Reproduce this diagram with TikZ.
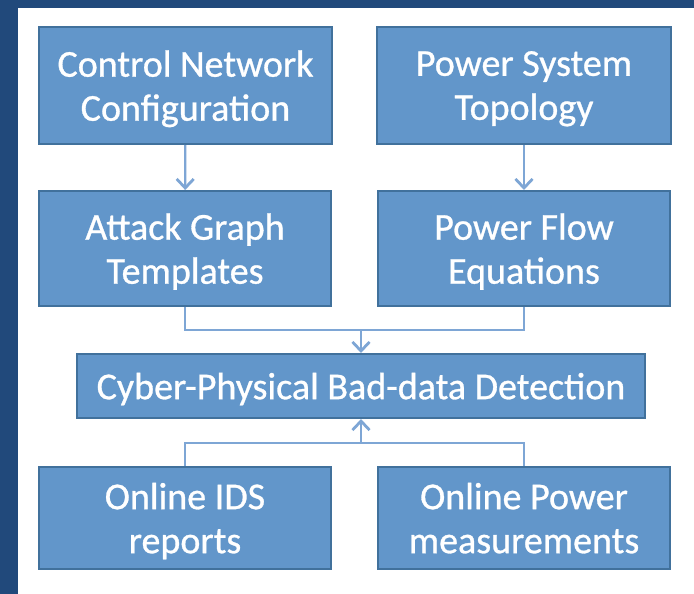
\documentclass[tikz,border=0pt]{standalone}
\usepackage{xcolor}
\usepackage{tikz}
\usepackage{fontspec}
\setmainfont{Carlito}
\newfontfamily\boxfont{Carlito}[FakeBold=0.8]
\usetikzlibrary{arrows.meta, positioning, calc}
\definecolor{frameblue}{HTML}{21497B}
\definecolor{boxfill}{HTML}{6296CA}
\definecolor{boxedge}{HTML}{41719C}
\definecolor{linkblue}{HTML}{7EA6D5}

\tikzset{
  stagebox/.style={draw=boxedge, fill=boxfill, line width=2pt, text=white,
    align=center, inner sep=0pt, text depth=-6pt, font=\boxfont\fontsize{38}{44}\selectfont},
  link/.style={draw=linkblue, line width=2.2pt,
    -{Straight Barb[length=9pt, width=17pt, line width=2.8pt]}},
  joint/.style={draw=linkblue, line width=2.2pt}
}

\begin{document}
\begin{tikzpicture}[x=1pt, y=-1pt]
    % page and frame
    \useasboundingbox (0,0) rectangle (694,594);
    \fill[white] (0,0) rectangle (694,594);
    \fill[frameblue] (0,0) rectangle (18,594);
    \fill[frameblue] (0,0) rectangle (694,8);

    % upper row
    \node[stagebox, minimum width=293pt, minimum height=117pt] (ctrlnet) at (185.5,85.5) {Control Network\\Configuration};
    \node[stagebox, minimum width=294pt, minimum height=117pt] (pwrtopo) at (524,85.5) {Power System\\Topology};

    % second row
    \node[stagebox, minimum width=292pt, minimum height=115pt] (attackgraph) at (185,248.5) {Attack Graph\\Templates};
    \node[stagebox, minimum width=292pt, minimum height=115pt] (powerflow) at (524,248.5) {Power Flow\\Equations};

    % detection
    \node[stagebox, minimum width=568pt, minimum height=64pt] (cpbdd) at (361,386) {Cyber-Physical Bad-data Detection};

    % online inputs
    \node[stagebox, minimum width=292pt, minimum height=102pt] (idsrep) at (185,518) {Online IDS\\reports};
    \node[stagebox, minimum width=292pt, minimum height=102pt] (pwrmeas) at (524,518) {Online Power\\measurements};

    % junctions
    \coordinate (jtop) at (361,330);
    \coordinate (jbot) at (361,443);

    \draw[link] (ctrlnet) -- (attackgraph);
    \draw[link] (pwrtopo) -- (powerflow);
    \draw[link] (attackgraph.south) |- (jtop) -- (cpbdd.north);
    \draw[joint] (powerflow.south) |- (jtop);
    \draw[link] (idsrep.north) |- (jbot) -- (cpbdd.south);
    \draw[joint] (pwrmeas.north) |- (jbot);
\end{tikzpicture}
\end{document}
